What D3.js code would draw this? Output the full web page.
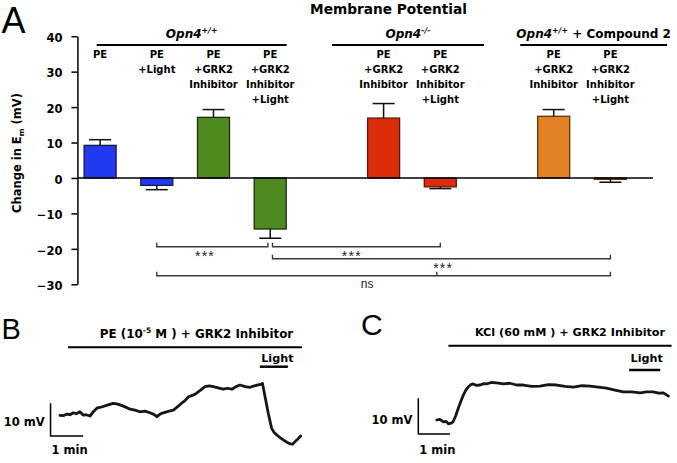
<!DOCTYPE html>
<html><head><meta charset="utf-8">
<script src="https://cdn.jsdelivr.net/npm/d3@7"></script>
<style>
html,body{margin:0;padding:0;background:#fff;}
svg{display:block;}
text{font-family:"DejaVu Sans",sans-serif;font-weight:bold;fill:#000;}
</style></head><body>
<svg id="chart" width="677" height="463"></svg>
<script>
// ---------------- DATA ----------------
const categories = [
  "PE", "PE +Light", "PE +GRK2 Inhibitor", "PE +GRK2 Inhibitor +Light",
  "PE +GRK2 Inhibitor", "PE +GRK2 Inhibitor +Light",
  "PE +GRK2 Inhibitor", "PE +GRK2 Inhibitor +Light"
];
const groupOf = [0, 0, 0, 0, 1, 1, 2, 2];
const groupNames = [
  {gene: "Opn4", sup: "+/+", rest: ""},
  {gene: "Opn4", sup: "-/-", rest: ""},
  {gene: "Opn4", sup: "+/+", rest: " + Compound 2"}
];
const values = [9.2, -2.1, 17.1, -14.4, 16.9, -2.5, 17.4, -0.4];
const errors = [1.6, 1.2, 2.2, 2.6, 4.1, 0.5, 1.9, 0.8];
const barColors = ["#2139f2", "#2139f2", "#4e8a22", "#4e8a22", "#dc2c0a", "#dc2c0a", "#e38024", "#e38024"];
const barEdges = ["#1a1a3a", "#1a1a3a", "#1c2c0c", "#1c2c0c", "#5a180a", "#5a180a", "#5a3212", "#5a3212"];
const yTicks = [-30, -20, -10, 0, 10, 20, 30, 40];
const yTitle = "Change in E";
const chartTitle = "Membrane Potential";
const comparisons = [
  {a: 1, b: 3, label: "***"},
  {a: 3, b: 5, label: "***"},
  {a: 3, b: 7, label: "***"},
  {a: 1, b: 7, mid: 5, label: "ns"}
];
// Panel B trace (time in min, membrane potential change in mV)
const traceB_t  = [0, 0.1, 0.21, 0.31, 0.41, 0.5, 0.61, 0.71, 0.8, 0.92, 1.02, 1.13, 1.25, 1.38, 1.5, 1.63, 1.74, 1.84, 2.0, 2.15, 2.3, 2.45, 2.6, 2.76, 2.88, 2.97, 3.07, 3.17, 3.32, 3.48, 3.6, 3.73, 3.84, 3.94, 4.06, 4.19, 4.32, 4.45, 4.58, 4.70, 4.85, 5.01, 5.14, 5.27, 5.4, 5.52, 5.68, 5.83, 5.96, 6.08, 6.16, 6.21, 6.29, 6.39, 6.49, 6.57, 6.65, 6.75, 6.85, 6.96, 7.06, 7.14, 7.21, 7.3, 7.38];
const traceB_mV = [0.4, 0.3, 0.8, 0.6, 1.2, 0.9, 1.5, 0.5, 0.6, 0.2, 1.5, 2.6, 2.9, 3.3, 3.7, 4.1, 3.9, 3.6, 3.0, 2.3, 2.0, 1.5, 1.7, 1.2, 0.7, 0.0, 0.8, 1.2, 1.6, 2.0, 3.0, 4.1, 5.0, 6.1, 6.5, 7.2, 8.2, 9.2, 9.4, 9.2, 8.8, 8.4, 8.7, 8.4, 9.2, 9.7, 9.2, 9.0, 9.4, 9.7, 9.9, 10.2, 6.1, 1.0, -3.5, -4.8, -5.6, -6.4, -7.1, -7.8, -8.3, -8.4, -7.6, -6.8, -5.9];
// Panel C trace
const traceC_t  = [0, 0.1, 0.21, 0.3, 0.37, 0.45, 0.52, 0.6, 0.68, 0.76, 0.84, 0.92, 1.0, 1.08, 1.15, 1.25, 1.37, 1.48, 1.58, 1.72, 1.89, 2.1, 2.31, 2.52, 2.73, 3.0, 3.26, 3.52, 3.79, 4.05, 4.31, 4.58, 4.84, 5.1, 5.36, 5.62, 5.89, 6.15, 6.42, 6.62, 6.83, 7.0, 7.15, 7.31];
const traceC_mV = [0, 0.2, -0.5, -0.4, -1.1, -0.9, -0.5, 1.2, 3.3, 5.2, 7.0, 8.4, 9.3, 9.9, 10.1, 9.7, 9.8, 10.2, 10.1, 10.5, 10.4, 10.1, 10.3, 9.8, 9.8, 9.4, 9.5, 9.9, 9.8, 9.4, 9.2, 9.6, 9.5, 9.2, 8.9, 8.4, 7.9, 7.9, 7.6, 7.9, 7.9, 7.5, 7.6, 6.7];
const traceB_label = {pre: "PE (10", sup: "-5", post: " M ) + GRK2 Inhibitor"};
const traceC_label = {pre: "KCl (60 mM ) + GRK2 Inhibitor", sup: "", post: ""};

// ---------------- DRAW ----------------
const svg = d3.select("#chart");
const font = "DejaVu Sans";
const helv = "'Liberation Sans', Arial, sans-serif";

// slot index: one empty slot between genotype groups
const slotOf = i => i + groupOf[i];
const x = d3.scaleLinear().domain([0, 9]).range([100.1, 610.4]);
const y = d3.scaleLinear().domain([-30, 40]).range([284.3, 36.2]);
const barW = 32, capW = 22;

// Panel letters
const letter = (t, px, py, fs) => svg.append("text").attr("x", px).attr("y", py)
  .style("font-family", helv).style("font-weight", "normal")
  .attr("font-size", fs).text(t);
letter("A", 1.5, 32.6, 36);
letter("B", 1.5, 339, 29);
letter("C", 361, 335, 30);

// Title
svg.append("text").attr("x", 388.5).attr("y", 14).attr("text-anchor", "middle")
  .attr("font-size", 13.7).text(chartTitle);

// y axis
const axisX = x(-0.4);
const gAx = svg.append("g").attr("transform", `translate(${axisX},0)`)
  .call(d3.axisLeft(y).tickValues(yTicks).tickSize(6).tickPadding(9).tickSizeOuter(0));
gAx.select(".domain").attr("stroke", "#000").attr("stroke-width", 1.5);
gAx.selectAll(".tick line").attr("stroke", "#000").attr("stroke-width", 1.5);
gAx.selectAll(".tick text").attr("font-size", 11.5).attr("font-family", font)
  .attr("font-weight", "bold").attr("fill", "#000").attr("dy", "0.45em");

// y title
const yt = svg.append("text").attr("transform", "translate(20.5,153) rotate(-90)")
  .attr("text-anchor", "middle").attr("font-size", 11.5);
yt.append("tspan").text(yTitle);
yt.append("tspan").attr("font-size", 7.5).attr("dy", 3).text("m");
yt.append("tspan").attr("dy", -3).text(" (mV)");

// bars
const bars = svg.append("g");
values.forEach((v, i) => {
  const cx = x(slotOf(i));
  bars.append("rect")
    .attr("x", cx - barW / 2).attr("width", barW)
    .attr("y", Math.min(y(v), y(0))).attr("height", Math.abs(y(v) - y(0)))
    .attr("fill", barColors[i]).attr("stroke", barEdges[i]).attr("stroke-width", 1.3);
  const tip = v + Math.sign(v) * errors[i];
  bars.append("line").attr("x1", cx).attr("x2", cx).attr("y1", y(v)).attr("y2", y(tip))
    .attr("stroke", "#111").attr("stroke-width", 1.5);
  bars.append("line").attr("x1", cx - capW / 2).attr("x2", cx + capW / 2)
    .attr("y1", y(tip)).attr("y2", y(tip)).attr("stroke", "#111").attr("stroke-width", 1.5);
});

// zero line
svg.append("line").attr("x1", axisX).attr("x2", x(9.75)).attr("y1", y(0)).attr("y2", y(0))
  .attr("stroke", "#000").attr("stroke-width", 1.5);

// category labels
categories.forEach((c, i) => {
  const t = svg.append("text").attr("text-anchor", "middle").attr("font-size", 10);
  c.split(" ").forEach((line, k) => {
    t.append("tspan").attr("x", x(slotOf(i))).attr("y", 57.5 + 15 * k).text(line);
  });
});

// group headers (spans in slot units)
const groupSpan = [[-0.06, 3.29], [4.09, 6.77], [7.41, 10.0]];
groupNames.forEach((g, k) => {
  const [s0, s1] = groupSpan[k];
  svg.append("line").attr("x1", x(s0)).attr("x2", x(s1)).attr("y1", 45).attr("y2", 45)
    .attr("stroke", "#000").attr("stroke-width", 2);
  const t = svg.append("text").attr("x", (x(s0) + x(s1)) / 2).attr("y", 37.5)
    .attr("text-anchor", "middle").attr("font-size", 12);
  t.append("tspan").style("font-style", "italic").text(g.gene);
  t.append("tspan").style("font-style", "italic").attr("font-size", 7.8).attr("dy", -4.5).text(g.sup);
  if (g.rest) t.append("tspan").attr("dy", 4.5).text(g.rest);
});

// significance brackets
const levelVal = [-19.4, -19.4, -22.8, -27.6];
const labelSlot = [1.85, 4.44, 6.05, 4.71];
const sig = svg.append("g");
comparisons.forEach((c, k) => {
  let x1 = x(slotOf(c.a)), x2 = x(slotOf(c.b));
  if (c.a === 3) x1 += 2.3;
  if (c.b === 3) x2 -= 2.3;
  const yy = y(levelVal[k]);
  sig.append("path")
    .attr("d", `M${x1},${yy - 4}V${yy}H${x2}V${yy - 4}`)
    .attr("fill", "none").attr("stroke", "#3a3a3a").attr("stroke-width", 1.4);
  if (c.mid !== undefined) {
    const mx = x(slotOf(c.mid)) - 3.5;
    sig.append("line").attr("x1", mx).attr("x2", mx)
      .attr("y1", yy).attr("y2", yy - 4).attr("stroke", "#3a3a3a").attr("stroke-width", 1.4);
  }
  const isStars = c.label === "***";
  sig.append("text").attr("x", x(labelSlot[k])).attr("y", yy + (isStars ? 14 : 12))
    .attr("text-anchor", "middle")
    .style("font-family", helv).style("font-weight", "normal")
    .attr("font-size", isStars ? 14 : 12).attr("letter-spacing", isStars ? 1.2 : 0)
    .style("fill", "#1e1e1e").text(c.label);
});

// ---------------- traces ----------------
function drawTrace(ts, vs, xs, ys, lab, opt) {
  const line = d3.line().x((d, i) => xs(ts[i])).y((d, i) => ys(vs[i]));
  svg.append("path").datum(ts).attr("d", line).attr("fill", "none")
    .attr("stroke", "#161616").attr("stroke-width", 2.8)
    .attr("stroke-linejoin", "round").attr("stroke-linecap", "round");
  // header
  const t = svg.append("text").attr("x", opt.labelX).attr("y", opt.labelY)
    .attr("text-anchor", "middle").attr("font-size", opt.labelFs);
  t.append("tspan").text(lab.pre);
  if (lab.sup) {
    t.append("tspan").attr("font-size", 7.5).attr("dy", -4.5).text(lab.sup);
    t.append("tspan").attr("dy", 4.5).text(lab.post);
  }
  svg.append("line").attr("x1", xs(opt.drug[0])).attr("x2", xs(opt.drug[1]))
    .attr("y1", opt.drugY).attr("y2", opt.drugY).attr("stroke", "#000").attr("stroke-width", 2);
  // light
  svg.append("text").attr("x", (xs(opt.light[0]) + xs(opt.light[1])) / 2 + opt.lightDx)
    .attr("y", 362).attr("text-anchor", "middle").attr("font-size", 11.2).text("Light");
  svg.append("line").attr("x1", xs(opt.light[0])).attr("x2", xs(opt.light[1]))
    .attr("y1", opt.lightY).attr("y2", opt.lightY).attr("stroke", "#000").attr("stroke-width", 2.5);
  // scale bar
  const sx0 = xs(opt.sb[0]), sx1 = xs(opt.sb[0] + 1);
  const sy0 = ys(opt.sb[1]), sy1 = ys(opt.sb[1] + 10);
  svg.append("path").attr("d", `M${sx0},${sy1}V${sy0}H${sx1}`).attr("fill", "none")
    .attr("stroke", "#000").attr("stroke-width", 1.5);
  svg.append("text").attr("x", sx0 - 6).attr("y", (sy0 + sy1) / 2 + opt.mvDy)
    .attr("text-anchor", "end").attr("font-size", 11.5).text("10 mV");
  svg.append("text").attr("x", sx0 + 1).attr("y", 453.5).attr("font-size", 11.5).text("1 min");
}

const xB = d3.scaleLinear().domain([0, 1]).range([60, 92.6]);
const yB = d3.scaleLinear().domain([0, 10]).range([416.7, 384]);
drawTrace(traceB_t, traceB_mV, xB, yB, traceB_label,
  {labelX: 196.5, labelY: 337.5, labelFs: 11.9, drug: [0.245, 7.42], drugY: 347.3,
   light: [6.13, 6.99], lightY: 366.7, lightDx: 3.5, sb: [-0.29, -5.9], mvDy: 6.5});

const xC = d3.scaleLinear().domain([0, 1]).range([436.7, 468.4]);
const yC = d3.scaleLinear().domain([0, 10]).range([420, 384.3]);
drawTrace(traceC_t, traceC_mV, xC, yC, traceC_label,
  {labelX: 570, labelY: 336, labelFs: 11.2, drug: [0.37, 7.41], drugY: 345.7,
   light: [6.07, 7.05], lightY: 370, lightDx: 2, sb: [-0.58, -3.9], mvDy: 8});
</script>
</body></html>
